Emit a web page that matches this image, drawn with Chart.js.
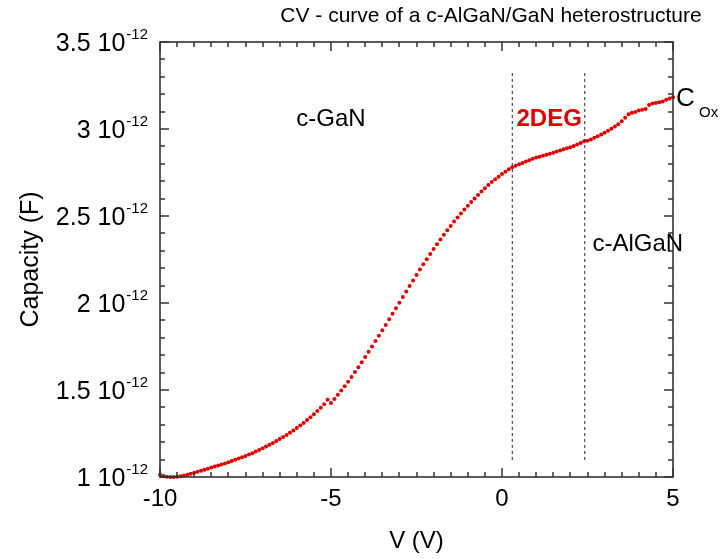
<!DOCTYPE html>
<html>
<head>
<meta charset="utf-8">
<script src="https://cdn.jsdelivr.net/npm/chart.js@4.4.1/dist/chart.umd.min.js"></script>
<style>
  html, body { margin: 0; padding: 0; background: #fff; }
  #chart-wrap { width: 720px; height: 559px; position: relative; }
</style>
</head>
<body>
<div id="chart-wrap"><canvas id="chart"></canvas></div>
<script>
// bias voltage (V), one point every 0.1 V
const voltage = [
  -10, -9.9, -9.8, -9.7, -9.6, -9.5, -9.4, -9.3, -9.2, -9.1,
  -9, -8.9, -8.8, -8.7, -8.6, -8.5, -8.4, -8.3, -8.2, -8.1,
  -8, -7.9, -7.8, -7.7, -7.6, -7.5, -7.4, -7.3, -7.2, -7.1,
  -7, -6.9, -6.8, -6.7, -6.6, -6.5, -6.4, -6.3, -6.2, -6.1,
  -6, -5.9, -5.8, -5.7, -5.6, -5.5, -5.4, -5.3, -5.2, -5.1,
  -5, -4.9, -4.8, -4.7, -4.6, -4.5, -4.4, -4.3, -4.2, -4.1,
  -4, -3.9, -3.8, -3.7, -3.6, -3.5, -3.4, -3.3, -3.2, -3.1,
  -3, -2.9, -2.8, -2.7, -2.6, -2.5, -2.4, -2.3, -2.2, -2.1,
  -2, -1.9, -1.8, -1.7, -1.6, -1.5, -1.4, -1.3, -1.2, -1.1,
  -1, -0.9, -0.8, -0.7, -0.6, -0.5, -0.4, -0.3, -0.2, -0.1,
  0, 0.1, 0.2, 0.3, 0.4, 0.5, 0.6, 0.7, 0.8, 0.9,
  1, 1.1, 1.2, 1.3, 1.4, 1.5, 1.6, 1.7, 1.8, 1.9,
  2, 2.1, 2.2, 2.3, 2.4, 2.5, 2.6, 2.7, 2.8, 2.9,
  3, 3.1, 3.2, 3.3, 3.4, 3.5, 3.6, 3.7, 3.8, 3.9,
  4, 4.1, 4.2, 4.3, 4.4, 4.5, 4.6, 4.7, 4.8, 4.9,
  5
];

// capacity in units of 1e-12 F
const capacity = [
  1.013, 1.006, 1.002, 1.000, 1.000, 1.002, 1.005, 1.009, 1.013, 1.018,
  1.024, 1.030, 1.036, 1.042, 1.048, 1.054, 1.060, 1.066, 1.072, 1.078,
  1.085, 1.092, 1.099, 1.106, 1.113, 1.121, 1.129, 1.137, 1.146, 1.155,
  1.165, 1.175, 1.185, 1.196, 1.207, 1.218, 1.230, 1.242, 1.254, 1.267,
  1.281, 1.296, 1.311, 1.327, 1.344, 1.361, 1.379, 1.398, 1.418, 1.444,
  1.425, 1.448, 1.472, 1.497, 1.522, 1.548, 1.575, 1.603, 1.631, 1.660,
  1.690, 1.720, 1.750, 1.781, 1.812, 1.843, 1.874, 1.906, 1.938, 1.970,
  2.002, 2.034, 2.066, 2.098, 2.130, 2.161, 2.192, 2.222, 2.252, 2.282,
  2.310, 2.338, 2.365, 2.392, 2.418, 2.443, 2.468, 2.492, 2.515, 2.537,
  2.559, 2.580, 2.601, 2.621, 2.641, 2.660, 2.678, 2.695, 2.711, 2.726,
  2.741, 2.755, 2.768, 2.780, 2.789, 2.797, 2.805, 2.813, 2.821, 2.829,
  2.836, 2.841, 2.846, 2.852, 2.858, 2.864, 2.870, 2.876, 2.883, 2.889,
  2.895, 2.903, 2.911, 2.920, 2.929, 2.932, 2.940, 2.949, 2.958, 2.968,
  2.979, 2.990, 3.001, 3.014, 3.028, 3.045, 3.064, 3.085, 3.094, 3.098,
  3.106, 3.110, 3.115, 3.138, 3.147, 3.150, 3.154, 3.158, 3.168, 3.176,
  3.182
];

const xTickValues = [-10, -5, 0, 5];
const xTickLabels = ['-10', '-5', '0', '5'];
const yTickValues = [1, 1.5, 2, 2.5, 3, 3.5];
const yTickLabels = ['1', '1.5', '2', '2.5', '3', '3.5'];
const yExponent = '-12';

// dashed separators between the regions
const separatorV = [0.3, 2.42];
const separatorC = [1.098, 3.328];

const FONT = '"Liberation Sans", Arial, Helvetica, sans-serif';
const RED = '#e00000';

function drawFrame(chart) {
    const ctx = chart.ctx;
    const a = chart.chartArea;
    const xs = chart.scales.x, ys = chart.scales.y;
    ctx.save();
    ctx.fillStyle = '#333';
    // inward ticks on all four sides
    for (let i = 0; i <= 30; i++) {
        const px = Math.round(xs.getPixelForValue(-10 + i * 0.5));
        const len = (i % 10 === 0) ? 9 : 5;
        ctx.fillRect(px - 0.75, a.bottom - len, 1.5, len);
        ctx.fillRect(px - 0.75, a.top, 1.5, len);
    }
    for (let i = 0; i <= 25; i++) {
        const py = Math.round(ys.getPixelForValue(1 + i * 0.1));
        const len = (i % 5 === 0) ? 9 : 5;
        ctx.fillRect(a.left, py - 0.75, len, 1.5);
        ctx.fillRect(a.right - len, py - 0.75, len, 1.5);
    }
    ctx.strokeStyle = '#333';
    ctx.lineWidth = 1.6;
    ctx.strokeRect(a.left, a.top, a.right - a.left, a.bottom - a.top);
    ctx.restore();
}

function drawLabels(chart) {
    const { ctx, chartArea: a, scales } = chart;
    const x = scales.x, y = scales.y;
    ctx.save();
    ctx.fillStyle = '#000';

    // title
    ctx.font = '21px ' + FONT;
    ctx.textAlign = 'center';
    ctx.textBaseline = 'alphabetic';
    ctx.fillText('CV - curve of a c-AlGaN/GaN heterostructure', 491, 22);

    // x tick labels
    ctx.font = '24px ' + FONT;
    xTickValues.forEach((v, i) => {
        ctx.fillText(xTickLabels[i], x.getPixelForValue(v), 506);
    });

    // y tick labels with exponent
    yTickValues.forEach((v, i) => {
        const py = y.getPixelForValue(v);
        ctx.font = '15px ' + FONT;
        const ew = ctx.measureText(yExponent).width;
        ctx.textAlign = 'right';
        ctx.fillText(yExponent, 148, py - 3);
        ctx.font = '25px ' + FONT;
        ctx.fillText(yTickLabels[i] + ' 10', 148 - ew - 1, py + 9);
    });

    // axis titles
    ctx.textAlign = 'center';
    ctx.font = '24px ' + FONT;
    ctx.fillText('V (V)', (a.left + a.right) / 2, 548);
    ctx.save();
    ctx.translate(38, (a.top + a.bottom) / 2);
    ctx.rotate(-Math.PI / 2);
    ctx.font = '25px ' + FONT;
    ctx.fillText('Capacity (F)', 0, 0);
    ctx.restore();

    // region annotations
    ctx.font = '24px ' + FONT;
    ctx.fillText('c-GaN', x.getPixelForValue(-5.0), y.getPixelForValue(3.02));
    ctx.fillText('c-AlGaN', x.getPixelForValue(3.97), y.getPixelForValue(2.3));
    ctx.font = 'bold 24px ' + FONT;
    ctx.fillStyle = RED;
    ctx.fillText('2DEG', x.getPixelForValue(1.38), y.getPixelForValue(3.02));

    ctx.fillStyle = '#000';
    ctx.textAlign = 'left';
    ctx.font = '26px ' + FONT;
    ctx.fillText('C', 676, 106);
    ctx.font = '15px ' + FONT;
    ctx.fillText('Ox', 699, 117);
    ctx.restore();
}

const cvPlugin = {
    id: 'cvDecor',
    afterDatasetsDraw(chart) {
        drawFrame(chart);
    },
    afterDraw(chart) {
        drawLabels(chart);
    }
};

new Chart(document.getElementById('chart'), {
    type: 'scatter',
    data: {
        datasets: [
            {
                label: 'separator 1',
                data: separatorC.map(c => ({ x: separatorV[0], y: c })),
                showLine: true,
                borderColor: '#222',
                borderWidth: 1,
                borderDash: [3, 3],
                pointRadius: 0
            },
            {
                label: 'separator 2',
                data: separatorC.map(c => ({ x: separatorV[1], y: c })),
                showLine: true,
                borderColor: '#222',
                borderWidth: 1,
                borderDash: [3, 3],
                pointRadius: 0
            },
            {
                label: 'C(V)',
                data: voltage.map((v, i) => ({ x: v, y: capacity[i] })),
                showLine: false,
                pointRadius: 2,
                pointBorderWidth: 0,
                pointBackgroundColor: RED,
                backgroundColor: RED,
                clip: false
            }
        ]
    },
    options: {
        responsive: true,
        maintainAspectRatio: false,
        animation: false,
        layout: { padding: { left: 160, right: 47, top: 42, bottom: 82 } },
        plugins: {
            legend: { display: false },
            tooltip: { enabled: false }
        },
        scales: {
            x: { type: 'linear', min: -10, max: 5, display: false },
            y: { type: 'linear', min: 1, max: 3.5, display: false }
        }
    },
    plugins: [cvPlugin]
});
</script>
</body>
</html>
